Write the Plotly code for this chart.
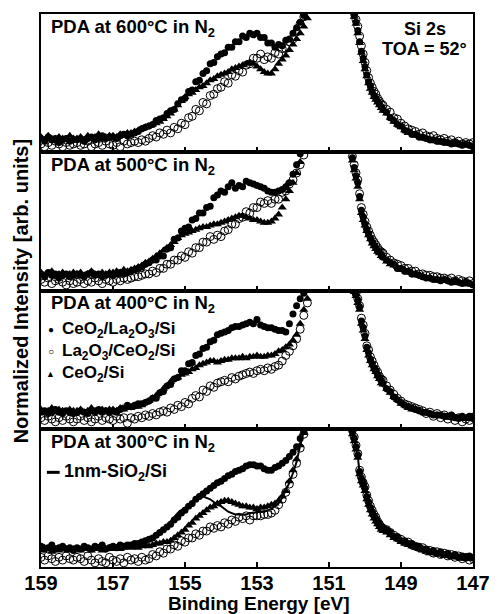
"""Si 2s XPS spectra after PDA in N2 at four temperatures (stacked panels)."""

import plotly.graph_objects as go
from plotly.subplots import make_subplots

# ── Data (normalized intensity, % of panel height) ──
# energy grid of the two visible parts of the spectra; the peak itself runs off scale.
# the steep high-energy flank of the right branch is read at 0.05 eV.
E_LEFT = [round(159.0 - 0.1 * i, 1) for i in range(75)]    # 159.0 ... 151.6
E_RIGHT = ([round(150.40 - 0.05 * i, 2) for i in range(19)]   # 150.40 ... 149.50
           + [round(149.4 - 0.1 * i, 1) for i in range(25)])  # 149.4 ... 147.0

PANEL_LABELS = ["PDA at 600°C in N<sub>2</sub>", "PDA at 500°C in N<sub>2</sub>",
                "PDA at 400°C in N<sub>2</sub>", "PDA at 300°C in N<sub>2</sub>"]
SAMPLES = ["CeO<sub>2</sub>/La<sub>2</sub>O<sub>3</sub>/Si",
           "La<sub>2</sub>O<sub>3</sub>/CeO<sub>2</sub>/Si",
           "CeO<sub>2</sub>/Si",
           "1nm-SiO<sub>2</sub>/Si"]
SAMPLE_GLYPHS = ["●", "○", "▲"]

# 600°C
P1_A = [10, 8, 11, 9, 10, 7, 9, 10, 8, 9,
        9, 10, 8, 10, 11, 9, 10, 12, 10, 11,
        11, 10, 12, 13, 12, 13, 14, 15, 17, 18,
        19, 20, 23, 24, 25, 28, 30, 31, 35, 38,
        39, 44, 45, 51, 52, 57, 59, 64, 65, 69,
        71, 72, 76, 76, 80, 80, 84, 83, 86, 85,
        86, 83, 83, 79, 79, 76, 78, 77, 81, 82,
        86, 90, 94, 99, 104]
P1_B = [6, 4, 7, 5, 8, 6, 4, 7, 5, 6,
        7, 5, 6, 8, 4, 6, 7, 5, 8, 6,
        5, 7, 4, 8, 6, 7, 8, 7, 9, 8,
        10, 12, 11, 14, 13, 16, 14, 18, 17, 21,
        20, 25, 26, 31, 30, 36, 35, 41, 42, 46,
        47, 51, 50, 56, 55, 59, 58, 63, 64, 68,
        68, 71, 67, 69, 68, 72, 71, 75, 75, 80,
        82, 87, 93, 98, 103]
P1_C = [11, 9, 12, 10, 8, 11, 10, 9, 12, 10,
        10, 11, 9, 12, 10, 11, 13, 10, 11, 12,
        12, 11, 13, 12, 14, 14, 15, 16, 17, 18,
        19, 20, 21, 22, 24, 26, 28, 31, 34, 37,
        40, 42, 43, 45, 47, 48, 50, 52, 53, 55,
        56, 57, 58, 60, 61, 62, 63, 64, 65, 64,
        62, 60, 58, 57, 57, 60, 64, 67, 70, 74,
        78, 82, 86, 91, 97]
P1_A_TAIL = [114, 106, 99, 94, 88, 80, 73, 68, 62, 56, 51, 48, 44, 41, 39, 37, 35, 33, 31,
             29, 25, 23, 20, 19, 16, 15, 13, 13, 11, 11, 10, 9, 9, 8, 8, 7, 7, 6, 7,
             6, 5, 6, 5, 4]
P1_B_TAIL = [116, 108, 101, 96, 91, 84, 77, 71, 65, 59, 54, 50, 47, 44, 42, 39, 37, 35, 34,
             31, 29, 25, 24, 21, 19, 17, 16, 15, 13, 14, 12, 11, 12, 10, 9, 10, 8, 9, 7,
             8, 6, 7, 6, 7]
P1_C_TAIL = [113, 105, 98, 93, 86, 79, 72, 66, 60, 55, 50, 46, 43, 40, 38, 36, 34, 32, 30,
             28, 25, 22, 20, 18, 16, 14, 14, 12, 12, 10, 10, 9, 8, 9, 7, 8, 7, 6, 6,
             6, 5, 5, 5, 4]

# 500°C
P2_A = [12, 10, 13, 11, 12, 9, 11, 12, 10, 11,
        12, 11, 10, 12, 13, 11, 12, 10, 11, 12,
        11, 12, 13, 12, 13, 14, 15, 16, 17, 19,
        20, 22, 22, 25, 25, 30, 31, 37, 38, 43,
        45, 46, 51, 52, 56, 56, 60, 61, 67, 69,
        72, 71, 75, 78, 74, 76, 75, 79, 78, 77,
        76, 75, 74, 72, 71, 71, 72, 73, 75, 78,
        84, 91, 99, 105, 110]
P2_B = [8, 6, 9, 5, 7, 8, 6, 4, 7, 5,
        6, 8, 5, 7, 6, 9, 7, 5, 8, 7,
        6, 8, 7, 9, 8, 9, 10, 10, 11, 12,
        12, 14, 13, 16, 16, 19, 19, 22, 22, 25,
        24, 28, 27, 31, 31, 35, 35, 39, 37, 40,
        39, 43, 44, 48, 48, 52, 53, 57, 56, 60,
        60, 64, 63, 65, 63, 66, 66, 71, 72, 77,
        80, 85, 91, 98, 105]
P2_C = [13, 11, 12, 14, 10, 12, 13, 11, 12, 13,
        12, 13, 11, 12, 14, 12, 11, 13, 12, 13,
        13, 14, 13, 15, 14, 15, 16, 17, 18, 20,
        21, 23, 25, 27, 29, 31, 33, 35, 38, 40,
        41, 42, 43, 44, 45, 46, 46, 47, 48, 48,
        49, 50, 51, 52, 53, 54, 54, 53, 52, 51,
        51, 50, 49, 49, 50, 52, 55, 60, 66, 72,
        78, 85, 93, 101, 108]
P2_A_TAIL = [103, 96, 89, 83, 78, 68, 58, 53, 48, 44, 41, 38, 35, 33, 31, 29, 28, 26, 24,
             22, 20, 19, 16, 16, 14, 14, 12, 12, 11, 10, 9, 9, 8, 8, 7, 8, 7, 6, 7,
             6, 5, 6, 5, 4]
P2_B_TAIL = [104, 97, 91, 85, 80, 70, 60, 55, 50, 46, 43, 40, 37, 35, 33, 31, 29, 28, 27,
             24, 22, 20, 19, 18, 16, 16, 14, 14, 12, 12, 11, 11, 10, 10, 9, 9, 8, 9, 7,
             8, 7, 6, 7, 5]
P2_C_TAIL = [101, 94, 87, 81, 75, 66, 56, 51, 47, 43, 40, 37, 34, 32, 30, 28, 27, 25, 24,
             21, 19, 18, 17, 15, 15, 13, 13, 11, 11, 10, 9, 9, 8, 8, 8, 7, 7, 6, 6,
             6, 5, 5, 5, 4]

# 400°C
P3_A = [12, 13, 11, 12, 14, 12, 11, 13, 12, 11,
        12, 13, 12, 11, 13, 12, 14, 12, 13, 12,
        13, 12, 14, 15, 17, 16, 17, 18, 18, 19,
        20, 22, 22, 26, 27, 31, 32, 36, 37, 42,
        42, 47, 48, 53, 54, 58, 59, 63, 64, 68,
        69, 70, 71, 73, 74, 74, 75, 76, 77, 76,
        79, 75, 74, 73, 73, 72, 71, 71, 70, 76,
        83, 89, 94, 98, 104]
P3_B = [8, 6, 9, 7, 5, 8, 6, 9, 7, 5,
        7, 9, 6, 8, 5, 7, 9, 6, 8, 7,
        6, 9, 7, 8, 4, 8, 7, 9, 8, 10,
        9, 11, 10, 12, 13, 12, 15, 14, 17, 16,
        19, 18, 22, 24, 23, 28, 27, 31, 30, 33,
        34, 35, 34, 37, 36, 38, 39, 40, 41, 40,
        42, 43, 42, 44, 43, 45, 46, 49, 53, 56,
        60, 65, 72, 82, 91]
P3_C = [14, 12, 13, 15, 12, 14, 13, 12, 14, 13,
        13, 14, 12, 13, 15, 13, 12, 14, 13, 14,
        14, 13, 15, 14, 15, 15, 16, 16, 17, 19,
        20, 22, 24, 26, 29, 31, 34, 36, 37, 39,
        40, 41, 43, 44, 46, 47, 48, 49, 49, 48,
        49, 50, 50, 51, 51, 51, 52, 51, 52, 52,
        53, 52, 52, 53, 53, 54, 56, 57, 59, 61,
        64, 68, 76, 86, 94]
P3_A_TAIL = [113, 107, 101, 97, 93, 88, 78, 73, 67, 59, 55, 50, 47, 44, 42, 39, 37, 35, 33,
             29, 27, 23, 21, 19, 17, 16, 15, 14, 13, 12, 12, 11, 10, 10, 10, 9, 9, 10, 8,
             8, 9, 8, 9, 9]
P3_B_TAIL = [112, 106, 100, 98, 94, 89, 80, 75, 69, 60, 57, 52, 49, 46, 43, 41, 38, 36, 35,
             31, 28, 25, 22, 20, 18, 17, 16, 15, 14, 13, 11, 12, 9, 11, 8, 10, 7, 9, 6,
             8, 5, 7, 6, 8]
P3_C_TAIL = [111, 105, 99, 96, 91, 86, 76, 71, 65, 57, 53, 49, 46, 43, 41, 38, 36, 33, 32,
             29, 26, 23, 21, 18, 17, 15, 14, 14, 13, 12, 11, 11, 10, 10, 9, 9, 8, 8, 8,
             7, 7, 7, 7, 8]

# 300°C
P4_A = [15, 13, 14, 16, 13, 14, 15, 13, 14, 12,
        14, 13, 15, 14, 13, 15, 14, 16, 13, 14,
        15, 14, 16, 15, 16, 16, 17, 17, 18, 19,
        20, 21, 23, 25, 27, 29, 31, 34, 36, 39,
        41, 44, 46, 49, 51, 53, 55, 57, 59, 61,
        62, 64, 66, 67, 69, 70, 71, 73, 74, 74,
        73, 73, 71, 70, 70, 72, 73, 75, 77, 80,
        83, 87, 93, 99, 105]
P4_B = [7, 5, 8, 6, 4, 7, 5, 8, 6, 5,
        7, 6, 4, 8, 5, 3, 6, 4, 3, 7,
        5, 4, 6, 3, 7, 5, 6, 4, 7, 5,
        6, 9, 8, 11, 10, 13, 13, 16, 15, 19,
        18, 21, 21, 24, 23, 26, 26, 29, 28, 30,
        29, 32, 31, 34, 33, 36, 35, 37, 34, 37,
        37, 37, 38, 38, 39, 41, 45, 49, 54, 60,
        67, 75, 86, 96, 104]
P4_C = [12, 14, 13, 11, 13, 12, 14, 13, 12, 13,
        13, 12, 14, 13, 12, 13, 14, 12, 13, 14,
        13, 14, 13, 14, 15, 14, 15, 14, 15, 16,
        15, 16, 17, 17, 18, 18, 19, 21, 23, 25,
        27, 30, 32, 35, 37, 39, 41, 43, 44, 46,
        47, 48, 48, 47, 46, 45, 44, 44, 43, 43,
        42, 43, 43, 44, 45, 46, 48, 51, 55, 62,
        70, 78, 88, 97, 105]
P4_D = [14, 14, 14, 13, 14, 14, 13, 14, 14, 14,
        14, 14, 13, 14, 14, 14, 14, 14, 14, 14,
        14, 14, 14, 15, 15, 15, 16, 16, 17, 19,
        20, 22, 24, 26, 28, 30, 33, 36, 39, 41,
        43, 45, 47, 49, 50, 51, 50, 49, 47, 45,
        44, 42, 40, 39, 38, 38, 38, 38, 39, 39,
        40, 40, 40, 41, 42, 44, 46, 50, 55, 61,
        68, 76, 88, 98, 108]
P4_A_TAIL = [105, 98, 93, 87, 81, 69, 64, 61, 57, 51, 47, 43, 40, 37, 35, 33, 31, 29, 28,
             27, 25, 22, 22, 19, 19, 17, 17, 15, 15, 13, 13, 11, 12, 10, 11, 9, 10, 8, 9,
             7, 8, 7, 8, 7]
P4_B_TAIL = [106, 99, 94, 88, 82, 70, 65, 61, 58, 52, 48, 44, 41, 38, 36, 33, 31, 29, 28,
             27, 25, 23, 21, 20, 18, 18, 16, 15, 14, 14, 12, 12, 10, 11, 9, 10, 8, 9, 7,
             8, 6, 7, 5, 6]
P4_C_TAIL = [103, 96, 91, 85, 79, 67, 62, 59, 55, 49, 45, 41, 38, 35, 33, 31, 29, 27, 26,
             25, 23, 21, 20, 18, 17, 16, 15, 14, 13, 12, 11, 10, 10, 9, 9, 8, 8, 7, 7,
             7, 6, 6, 6, 6]
P4_D_TAIL = [104, 97, 92, 86, 80, 68, 63, 60, 56, 50, 46, 42, 39, 36, 34, 32, 30, 28, 27,
             26, 24, 22, 21, 19, 18, 17, 16, 15, 14, 13, 12, 11, 11, 10, 10, 9, 9, 8, 8,
             8, 7, 7, 7, 7]

FONT = "Liberation Sans, Arial, Helvetica, sans-serif"
# plot area in pixels: x 41..481, y 12..567
PX_L, PX_R, PX_T, PX_B = 41, 481, 12, 567


def px_x(px):
    return (px - PX_L) / (PX_R - PX_L)


def px_y(py):
    return (PX_B - py) / (PX_B - PX_T)


def spectrum(left, tail):
    assert len(left) == len(E_LEFT) and len(tail) == len(E_RIGHT)
    return E_LEFT + [None] + E_RIGHT, left + [None] + tail


def text_at(fig, text, px, py, size, xanchor="left", yanchor="middle", **kw):
    fig.add_annotation(text=text, xref="paper", yref="paper", x=px_x(px), y=px_y(py),
                       xanchor=xanchor, yanchor=yanchor, showarrow=False,
                       borderpad=0, font=dict(family=FONT, size=size, color="black",
                                              weight="bold"), **kw)


def build():
    fig = make_subplots(rows=4, cols=1, shared_xaxes=True, vertical_spacing=0)

    panels = [
        (P1_A, P1_A_TAIL, P1_B, P1_B_TAIL, P1_C, P1_C_TAIL),
        (P2_A, P2_A_TAIL, P2_B, P2_B_TAIL, P2_C, P2_C_TAIL),
        (P3_A, P3_A_TAIL, P3_B, P3_B_TAIL, P3_C, P3_C_TAIL),
        (P4_A, P4_A_TAIL, P4_B, P4_B_TAIL, P4_C, P4_C_TAIL),
    ]

    for row, (a, at, b, bt, c, ct) in enumerate(panels, start=1):
        x, y = spectrum(b, bt)
        fig.add_trace(go.Scatter(
            x=x, y=y, mode="markers", name=SAMPLES[1],
            marker=dict(symbol="circle-open", size=8, color="black", line=dict(width=1)),
        ), row=row, col=1)
        x, y = spectrum(c, ct)
        fig.add_trace(go.Scatter(
            x=x, y=y, mode="markers", name=SAMPLES[2],
            marker=dict(symbol="triangle-up", size=8, color="black"),
        ), row=row, col=1)
        x, y = spectrum(a, at)
        fig.add_trace(go.Scatter(
            x=x, y=y, mode="markers", name=SAMPLES[0],
            marker=dict(symbol="circle", size=7, color="black"),
        ), row=row, col=1)

    x, y = spectrum(P4_D, P4_D_TAIL)
    fig.add_trace(go.Scatter(
        x=x, y=y, mode="lines", name=SAMPLES[3],
        connectgaps=False, line=dict(color="black", width=2),
    ), row=4, col=1)

    fig.update_xaxes(
        range=[159, 147], tickvals=[159, 157, 155, 153, 151, 149, 147],
        ticks="inside", ticklen=5, tickwidth=2, tickcolor="black",
        showline=True, linecolor="black", linewidth=2, mirror=True,
        showgrid=False, zeroline=False, ticklabelstandoff=-3,
        tickfont=dict(family=FONT, size=20, color="black", weight="bold"),
    )
    fig.update_yaxes(
        range=[0, 100], showticklabels=False, ticks="",
        showline=True, linecolor="black", linewidth=2, mirror=True,
        showgrid=False, zeroline=False,
    )

    # panel labels and header
    panel_h = (PX_B - PX_T) / 4
    for i, text in enumerate(PANEL_LABELS):
        text_at(fig, text, 50, PX_T + i * panel_h + 14, 18.5)
    text_at(fig, "Si 2s", 432, 27, 18, xanchor="center")
    text_at(fig, "TOA = 52°", 432, 47, 18, xanchor="center")

    # sample key in the 400°C panel (one text block, 1.3 line spacing)
    key_size = 17
    key_mid = 351
    line_h = 1.3 * key_size
    text_at(fig, "<br>".join(SAMPLES[:3]), 61, key_mid, key_size, align="left")
    for i, glyph in enumerate(SAMPLE_GLYPHS):
        text_at(fig, glyph, 51, key_mid + (i - 1) * line_h,
                9 if glyph == "▲" else 10, xanchor="center")

    # reference key in the 300°C panel
    fig.add_shape(type="line", xref="paper", yref="paper",
                  x0=px_x(47), x1=px_x(60), y0=px_y(472), y1=px_y(472),
                  line=dict(color="black", width=3))
    text_at(fig, SAMPLES[3], 63, 472, 18)

    # axis titles
    text_at(fig, "Binding Energy [eV]", 263, 615, 19, xanchor="center", yanchor="bottom")
    text_at(fig, "Normalized Intensity [arb. units]", 21, 290, 20,
            xanchor="center", textangle=-90)

    fig.update_layout(
        width=502, height=614,
        margin=dict(l=PX_L, r=502 - PX_R, t=PX_T, b=614 - PX_B),
        paper_bgcolor="white", plot_bgcolor="white",
        font=dict(family=FONT, color="black"),
        showlegend=False,
    )
    return fig


def main():
    fig = build()
    # the page's default body margin would shift the 502x614 figure out of the window
    fig.write_html("out.html", config={"displayModeBar": False},
                   post_script="document.body.style.margin = '0';")


if __name__ == "__main__":
    main()
